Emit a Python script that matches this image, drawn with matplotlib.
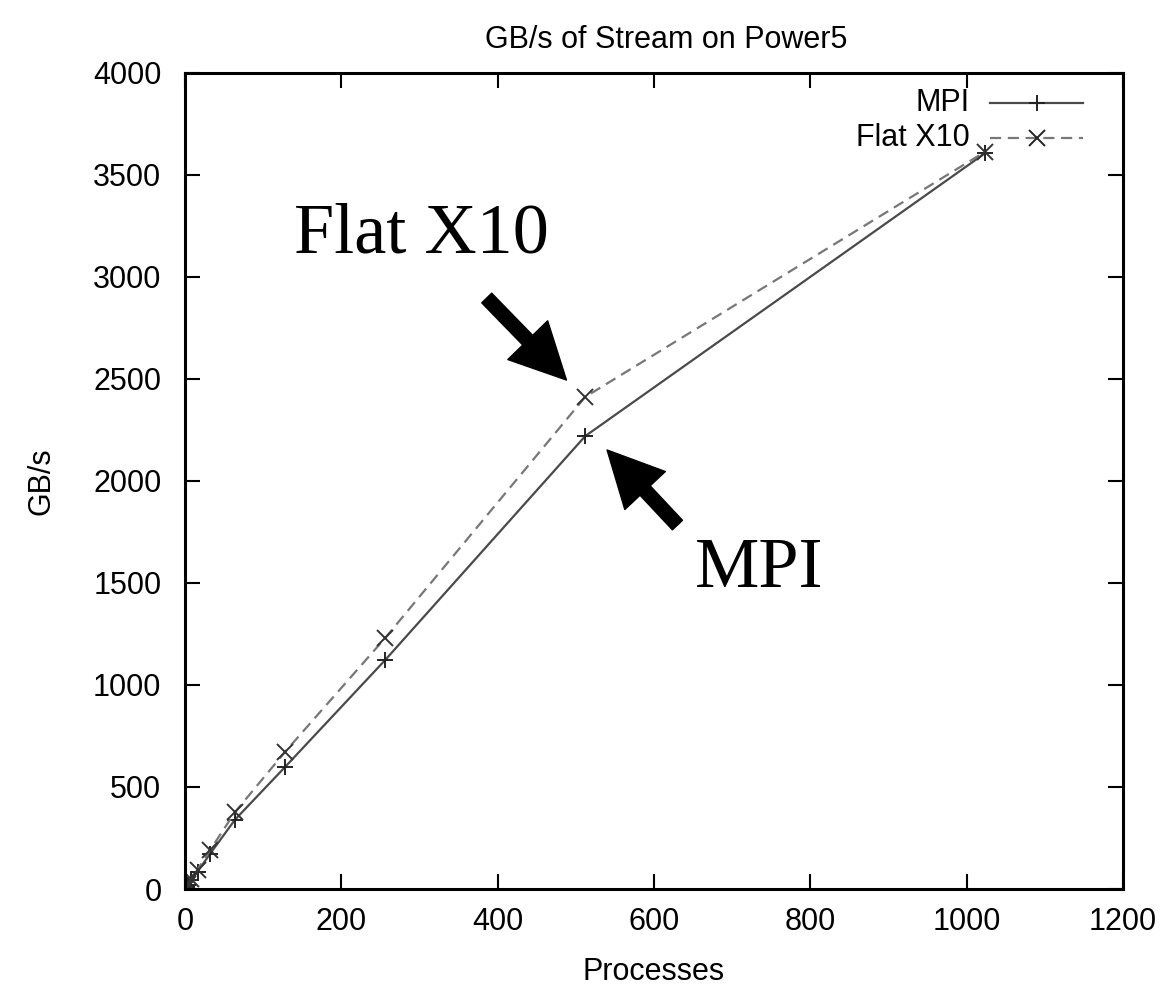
import numpy as np
import matplotlib
matplotlib.use("Agg")
import matplotlib.pyplot as plt
from matplotlib.lines import Line2D

# Stream bandwidth on Power5
processes = [1, 2, 4, 8, 16, 32, 64, 128, 256, 512, 1024]
mpi_gbs = [5, 10, 21, 42, 85, 172, 340, 598, 1122, 2220, 3608]
flat_x10_gbs = [6, 12, 24, 48, 95, 190, 377, 672, 1230, 2412, 3615]

x_ticks = [0, 200, 400, 600, 800, 1000, 1200]
y_ticks = [0, 500, 1000, 1500, 2000, 2500, 3000, 3500, 4000]

plt.rcParams["font.family"] = ["Liberation Sans", "DejaVu Sans"]

fig = plt.figure(figsize=(11.69, 9.88), dpi=100)
ax = fig.add_axes([185 / 1169, 1 - 889 / 988, 938 / 1169, 816 / 988])

ax.plot(processes, mpi_gbs, color="#4a4a4a", lw=1.6, ls="-",
        marker="+", ms=12, mew=1.4, mec="#222222")
ax.plot(processes, flat_x10_gbs, color="#777777", lw=1.6, ls=(0, (5, 3)),
        marker="x", ms=11, mew=1.4, mec="#333333")

ax.set_xlim(0, 1200)
ax.set_ylim(0, 4000)
ax.set_xticks(x_ticks)
ax.set_yticks(y_ticks)
ax.tick_params(direction="in", length=11, width=1.5, labelsize=22,
               top=True, right=True, colors="black")
ax.tick_params(axis="y", pad=17)
ax.tick_params(axis="x", pad=13)
for s in ax.spines.values():
    s.set_linewidth(2.2)

ax.set_title("GB/s of Stream on Power5", fontsize=22, pad=18, x=0.513)
ax.set_xlabel("Processes", fontsize=22, labelpad=14)
ax.set_ylabel("GB/s", fontsize=22, labelpad=26)

# gnuplot style key: label on the left, sample on the right
key_rows = [("MPI", "-", "+", "#4a4a4a", 0.963),
            ("Flat X10", (0, (5, 3)), "x", "#777777", 0.920)]
for label, ls, mk, col, yy in key_rows:
    ax.text(0.837, yy, label, transform=ax.transAxes, ha="right",
            va="center", fontsize=22)
    ax.add_line(Line2D([0.858, 0.957], [yy, yy], transform=ax.transAxes,
                       color=col, lw=1.6, ls=ls))
    ax.add_line(Line2D([0.908], [yy], transform=ax.transAxes, marker=mk,
                       ms=12, mew=1.4, color="#222222", ls="none"))

# callouts
arrow = dict(facecolor="black", edgecolor="black", width=10,
             headwidth=40, headlength=40, shrink=0)
ax.annotate("", xy=(488, 2495), xytext=(386, 2897), arrowprops=arrow)
ax.annotate("", xy=(540, 2152), xytext=(630, 1784), arrowprops=arrow)
ax.text(302, 3206, "Flat X10", family="Liberation Serif", fontsize=52,
        ha="center", va="center")
ax.text(735, 1564, "MPI", family="Liberation Serif", fontsize=52,
        ha="center", va="center")

fig.savefig("out.png", dpi=100)
